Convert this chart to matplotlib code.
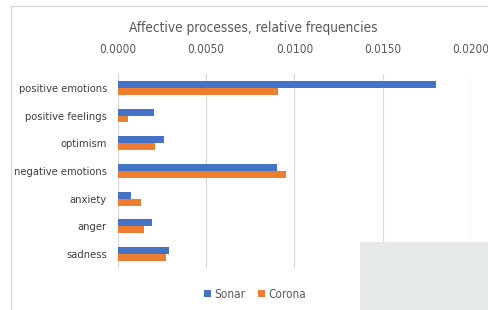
import matplotlib
matplotlib.use("Agg")
import matplotlib.pyplot as plt
from matplotlib.patches import Rectangle
from matplotlib.lines import Line2D
import numpy as np

# Data
categorias = ["positive emotions", "positive feelings", "optimism", "negative emotions",
              "anxiety", "anger", "sadness"]
sonar = [0.0180, 0.00206, 0.00263, 0.0090, 0.00072, 0.00191, 0.00289]
corona = [0.00909, 0.00055, 0.0021, 0.00953, 0.00132, 0.00146, 0.00272]
ticks_x = [0.0, 0.005, 0.010, 0.015, 0.020]

AZUL = "#4472C4"
LARANJA = "#ED7D31"
CINZA_TEXTO = "#595959"

plt.rcParams["font.family"] = ["DejaVu Sans"]
plt.rcParams["font.stretch"] = "condensed"

fig = plt.figure(figsize=(4.89, 3.10), dpi=100)
ax = fig.add_axes([118 / 489, 1 - 268 / 310, (471 - 118) / 489, (268 - 74) / 310])

y = np.arange(len(categorias))
h = 0.25
ax.barh(y - h / 2, sonar, height=h, color=AZUL, label="Sonar", zorder=3)
ax.barh(y + h / 2, corona, height=h, color=LARANJA, label="Corona", zorder=3)

ax.set_ylim(len(categorias) - 0.5, -0.5)
ax.set_xlim(0, 0.020)
ax.set_yticks(y)
ax.set_yticklabels(categorias, fontsize=8, color="#404040")
ax.set_xticks(ticks_x)
ax.set_xticklabels([f"{t:.4f}" for t in ticks_x], fontsize=8.5, color=CINZA_TEXTO)
ax.xaxis.tick_top()
ax.tick_params(axis="x", length=0, pad=13)
ax.tick_params(axis="y", length=0, pad=8)
ax.grid(axis="x", color="#D9D9D9", linewidth=0.9, zorder=0)
for lado in ["top", "right", "bottom"]:
    ax.spines[lado].set_visible(False)
ax.spines["left"].set_color("#D9D9D9")

fig.text(253 / 489, 1 - 28 / 310, "Affective processes, relative frequencies",
         ha="center", va="center", fontsize=9.8, color=CINZA_TEXTO)

fig.legend(loc="center", bbox_to_anchor=(255 / 489, 1 - 294 / 310), ncol=2,
           frameon=False, fontsize=8.5, handlelength=0.6, handleheight=0.6,
           handletextpad=0.3, columnspacing=1.0, labelcolor=CINZA_TEXTO)

# Chart frame (left and top only, rest cropped) and grey overlay box
fig.add_artist(Line2D([11 / 489, 11 / 489], [0, 1 - 6 / 310], color="#D9D9D9", linewidth=1))
fig.add_artist(Line2D([11 / 489, 1], [1 - 6 / 310, 1 - 6 / 310], color="#D9D9D9", linewidth=1))
fig.add_artist(Rectangle((360 / 489, 0), 129 / 489, 68 / 310, transform=fig.transFigure,
                         facecolor="#E6EAE6", edgecolor="none", zorder=5))

fig.savefig("out.png", dpi=100)
